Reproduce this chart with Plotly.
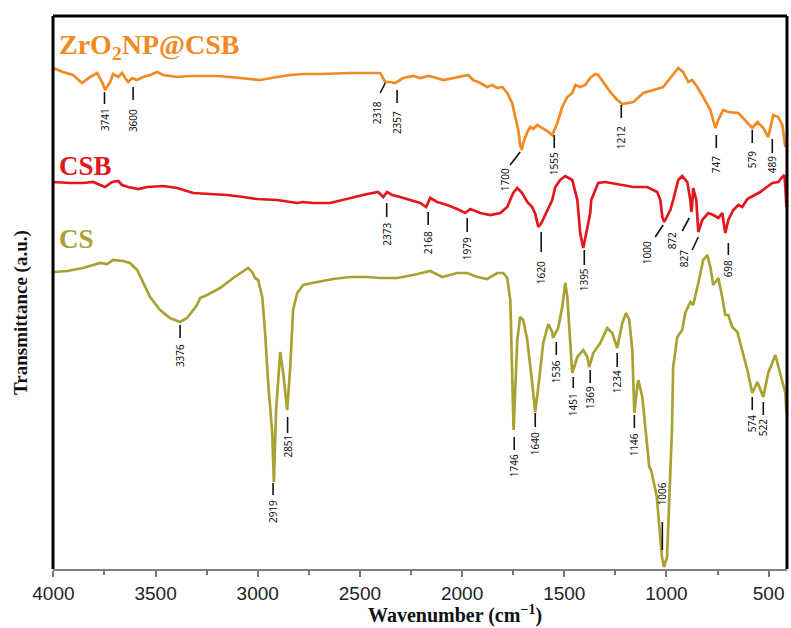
import plotly.graph_objects as go

# ---------------- spectra (wavenumber cm-1, transmittance a.u.) ----------------
zr_wn = [4001, 3953, 3904, 3860, 3820, 3786, 3762, 3747, 3722, 3708, 3683, 3664, 3649, 3634,
         3615, 3590, 3561, 3527, 3492, 3463, 3394, 3331, 3267, 3199, 3135, 3071, 2988, 2905,
         2841, 2778, 2694, 2548, 2401, 2376, 2352, 2327, 2313, 2288, 2239, 2205, 2166, 2141,
         2092, 2043, 2009, 1970, 1946, 1911, 1877, 1853, 1828, 1804, 1779, 1755, 1740, 1725,
         1716, 1708, 1701, 1681, 1667, 1652, 1632, 1608, 1583, 1559, 1534, 1510, 1485, 1461,
         1446, 1422, 1397, 1373, 1348, 1334, 1309, 1275, 1241, 1216, 1162, 1113, 1064, 1016,
         981, 942, 918, 893, 874, 849, 820, 785, 761, 746, 722, 697, 648, 604, 580, 555, 526,
         502, 477, 453, 433, 418]
zr_t = [501, 497, 494, 486, 492, 496, 487, 479, 487, 495, 492, 496, 491, 487,
        491, 489, 492, 494, 497, 494, 492, 493, 493, 493, 492, 491, 489, 492,
        494, 495, 495, 496, 496, 487, 487, 486, 488, 491, 493, 491, 493, 492,
        489, 491, 492, 494, 489, 486, 482, 484, 481, 482, 476, 466, 452, 439,
        424, 419, 426, 437, 442, 440, 444, 441, 438, 434, 446, 462, 472, 476,
        484, 482, 484, 491, 495, 494, 487, 477, 469, 465, 467, 476, 479, 482,
        491, 501, 497, 487, 489, 482, 472, 459, 441, 449, 459, 457, 456, 446, 441, 447, 441,
        432, 454, 452, 444, 422]

csb_wn = [4001, 3918, 3855, 3806, 3771, 3747, 3713, 3683, 3664, 3634, 3585, 3541, 3463, 3394,
          3316, 3233, 3150, 3071, 3003, 2905, 2841, 2807, 2778, 2729, 2646, 2548, 2464, 2411,
          2386, 2367, 2342, 2303, 2254, 2205, 2176, 2156, 2122, 2073, 2024, 1985, 1960, 1911,
          1862, 1813, 1779, 1750, 1730, 1706, 1681, 1657, 1642, 1627, 1612, 1583, 1559, 1544,
          1520, 1495, 1461, 1436, 1422, 1407, 1392, 1373, 1368, 1334, 1299, 1226, 1162, 1094,
          1045, 1030, 1020, 1011, 981, 967, 942, 923, 898, 883, 878, 874, 869, 854, 844, 825,
          795, 771, 746, 727, 712, 697, 673, 648, 629, 604, 541, 482, 453, 433, 423, 418, 413]
csb_t = [387, 386, 386, 387, 384, 382, 387, 388, 384, 382, 380, 382, 383, 381,
         376, 375, 374, 372, 370, 369, 367, 366, 367, 366, 366, 371, 375, 377,
         372, 377, 374, 372, 369, 366, 362, 371, 367, 364, 360, 356, 360, 356,
         354, 356, 362, 376, 381, 376, 367, 362, 355, 342, 346, 359, 369, 382,
         389, 393, 389, 369, 336, 321, 336, 356, 369, 386, 387, 384, 382, 382,
         377, 369, 352, 347, 359, 369, 389, 393, 387, 369, 357, 364, 381, 369, 337, 349,
         356, 354, 351, 356, 336, 349, 359, 364, 362, 370, 377, 386, 387, 392, 394, 382, 362]

cs_wn = [3997, 3933, 3855, 3771, 3737, 3708, 3659, 3625, 3590, 3561, 3527, 3478, 3429, 3380,
         3346, 3297, 3282, 3248, 3184, 3120, 3047, 3027, 3013, 2998, 2978, 2964, 2949, 2929,
         2921, 2910, 2890, 2875, 2856, 2841, 2827, 2807, 2778, 2709, 2631, 2548, 2465, 2401,
         2318, 2239, 2156, 2097, 2024, 1975, 1926, 1877, 1828, 1799, 1779, 1764, 1757, 1748,
         1730, 1716, 1701, 1681, 1657, 1642, 1627, 1603, 1578, 1559, 1555, 1530, 1510, 1495,
         1485, 1471, 1461, 1436, 1407, 1387, 1378, 1358, 1324, 1290, 1265, 1241, 1216, 1197,
         1182, 1167, 1157, 1143, 1138, 1118, 1094, 1084, 1075, 1047, 1022, 1012, 997, 973,
         967, 947, 923, 908, 883, 869, 844, 820, 800, 785, 771, 751, 746, 727, 712, 697, 678,
         653, 629, 604, 580, 555, 526, 502, 467, 443, 418, 413]
cs_t = [297, 298, 301, 306, 305, 309, 308, 306, 299, 286, 272, 259, 251, 247,
        251, 264, 271, 274, 281, 291, 301, 297, 291, 289, 272, 236, 186, 136,
        87, 160, 217, 195, 159, 202, 259, 276, 284, 287, 290, 292, 292, 291,
        291, 294, 298, 292, 296, 296, 292, 290, 296, 296, 291, 269, 219, 139,
        229, 252, 249, 229, 186, 157, 182, 226, 245, 237, 231, 241, 262, 286,
        272, 229, 196, 212, 219, 212, 202, 216, 226, 241, 236, 221, 246, 256,
        249, 219, 156, 182, 189, 172, 119, 102, 99, 72, 12, 2, 12, 139,
        202, 232, 239, 256, 267, 264, 286, 309, 314, 302, 284, 289, 291, 272, 254, 254, 242,
        237, 219, 199, 176, 187, 172, 196, 214, 196, 176, 156]

# ---------------- peak labels: text, text position, tick-line segment ----------------
zr_lab = ["3741", "3600", "2318", "2357", "1700", "1555", "1212", "747", "579", "489"]
zr_lab_x = [3747, 3610, 2415, 2318, 1789, 1549, 1221, 756, 580, 482]
zr_lab_y = [449, 448, 456, 446, 389, 405, 431, 404, 409, 404]
zr_seg_x0 = [3750, 3610, 2376, 2318, 1716, 1549, 1221, 756, 580, 482]
zr_seg_y0 = [477, 482, 486, 479, 417, 434, 464, 434, 439, 430]
zr_seg_x1 = [3750, 3610, 2401, 2318, 1765, 1549, 1221, 756, 580, 482]
zr_seg_y1 = [465, 469, 476, 466, 404, 421, 451, 421, 426, 416]

csb_lab = ["2373", "2168", "1979", "1620", "1395", "1000", "872", "827", "698"]
csb_lab_x = [2369, 2166, 1975, 1613, 1402, 1094, 971, 913, 697]
csb_lab_y = [335, 326, 320, 296, 289, 316, 328, 310, 300]
csb_seg_x0 = [2369, 2166, 1975, 1613, 1402, 1016, 888, 844, 697]
csb_seg_y0 = [366, 357, 351, 337, 319, 344, 351, 332, 326]
csb_seg_x1 = [2369, 2166, 1975, 1613, 1402, 1055, 923, 874, 697]
csb_seg_y1 = [352, 344, 337, 317, 304, 332, 338, 319, 314]

cs_lab = ["3376", "2919", "2851", "1746", "1640", "1536", "1451", "1369", "1234", "1146",
          "1006", "574", "522"]
cs_lab_x = [3380, 2925, 2854, 1745, 1642, 1539, 1456, 1373, 1241, 1157, 1020, 580, 526]
cs_lab_y = [213, 57, 123, 103, 125, 197, 164, 171, 187, 124, 75, 145, 141]
cs_seg_x0 = [3380, 2925, 2854, 1745, 1642, 1539, 1456, 1373, 1241, 1157, 1020, 580, 526]
cs_seg_y0 = [244, 86, 152, 132, 156, 227, 192, 199, 216, 154, 47, 172, 167]
cs_seg_x1 = [3380, 2925, 2854, 1745, 1642, 1539, 1456, 1373, 1241, 1157, 1020, 580, 526]
cs_seg_y1 = [231, 74, 136, 119, 142, 214, 181, 186, 202, 141, 19, 159, 154]

x_ticks = [4000, 3500, 3000, 2500, 2000, 1500, 1000, 500]

ORANGE = "#F08A24"
RED = "#E3161D"
OLIVE = "#A9A232"

fig = go.Figure()

for wn, t, col in [(cs_wn, cs_t, OLIVE), (csb_wn, csb_t, RED), (zr_wn, zr_t, ORANGE)]:
    fig.add_trace(go.Scatter(x=wn, y=t, mode="lines",
                             line=dict(color=col, width=2.7), hoverinfo="skip",
                             showlegend=False))

annotations = []
for labs, lx, ly, sx0, sy0, sx1, sy1 in [
        (zr_lab, zr_lab_x, zr_lab_y, zr_seg_x0, zr_seg_y0, zr_seg_x1, zr_seg_y1),
        (csb_lab, csb_lab_x, csb_lab_y, csb_seg_x0, csb_seg_y0, csb_seg_x1, csb_seg_y1),
        (cs_lab, cs_lab_x, cs_lab_y, cs_seg_x0, cs_seg_y0, cs_seg_x1, cs_seg_y1)]:
    xs, ys = [], []
    for a, b, c, d in zip(sx0, sy0, sx1, sy1):
        xs += [a, c, None]
        ys += [b, d, None]
    fig.add_trace(go.Scatter(x=xs, y=ys, mode="lines",
                             line=dict(color="#111111", width=1.6),
                             hoverinfo="skip", showlegend=False))
    for s, x, y in zip(labs, lx, ly):
        annotations.append(dict(x=x, y=y, xref="x", yref="y", text=s, showarrow=False,
                                textangle=-90, xanchor="center", yanchor="middle",
                                font=dict(family="Noto Sans", size=10, color="#111111")))

serif = "Liberation Serif"
series_labels = [
    ("<b>ZrO<sub>2</sub>NP@CSB</b>", 46, ORANGE, 28),
    ("<b>CSB</b>", 166, RED, 27),
    ("<b>CS</b>", 239, OLIVE, 27),
]
for txt, ypix, col, sz in series_labels:
    annotations.append(dict(x=(57 - 53) / 734, y=(569 - ypix) / 553, xref="paper", yref="paper",
                            text=txt, showarrow=False, xanchor="left", yanchor="middle",
                            font=dict(family=serif, size=sz, color=col)))

annotations += [
    dict(x=(455 - 53) / 734, y=-(614 - 569) / 553, xref="paper", yref="paper",
         text="<b>Wavenumber (cm<sup>−1</sup>)</b>", showarrow=False,
         xanchor="center", yanchor="middle",
         font=dict(family=serif, size=20, color="#111111")),
    dict(x=-(53 - 21) / 734, y=(569 - 313) / 553, xref="paper", yref="paper",
         text="<b>Transmittance (a.u.)</b>", showarrow=False, textangle=-90,
         xanchor="center", yanchor="middle",
         font=dict(family=serif, size=19, color="#111111")),
]

shapes = [
    dict(type="line", xref="paper", yref="paper", x0=0, x1=0, y0=0, y1=1,
         line=dict(color="black", width=3)),
    dict(type="line", xref="paper", yref="paper", x0=0, x1=1, y0=1, y1=1,
         line=dict(color="black", width=3)),
    dict(type="line", xref="paper", yref="paper", x0=1, x1=1, y0=0, y1=1,
         line=dict(color="black", width=3)),
]

fig.update_layout(
    width=791, height=628, autosize=False,
    margin=dict(l=53, r=4, t=16, b=59, pad=0),
    paper_bgcolor="white", plot_bgcolor="white",
    annotations=annotations, shapes=shapes,
    xaxis=dict(range=[4002, 410], tickvals=x_ticks, ticktext=[str(v) for v in x_ticks],
               ticks="outside", ticklen=6, tickwidth=1.5, tickcolor="#777777",
               minor=dict(dtick=250, ticks="outside", ticklen=4, tickwidth=1.5,
                          tickcolor="#777777", showgrid=False),
               showgrid=False, zeroline=False, showline=True, linecolor="#808080",
               linewidth=2, tickfont=dict(family="Liberation Sans", size=19, color="#222222")),
    yaxis=dict(range=[0, 553], visible=False, fixedrange=True),
)

fig.write_html("out.html")
